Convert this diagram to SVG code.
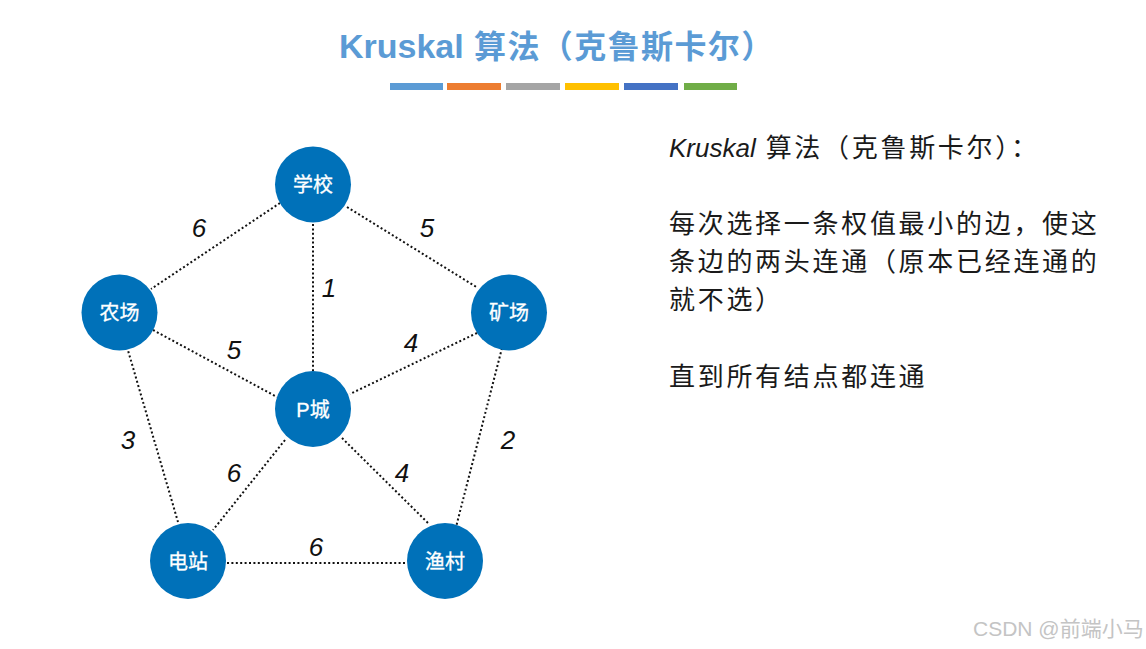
<svg xmlns="http://www.w3.org/2000/svg" width="1146" height="649" viewBox="0 0 1146 649">
<style>
.node circle{fill:#0071b9}
.node text{fill:#fff;stroke:#fff;stroke-width:0.3;font-family:"Liberation Sans","Noto Sans CJK SC",sans-serif;font-size:20px;text-anchor:middle}
.edge{stroke:#111;stroke-width:2;stroke-dasharray:2 2.4;fill:none}
.w{font-family:"Liberation Sans",sans-serif;font-style:italic;font-size:26px;fill:#111;text-anchor:middle}
.desc{font-family:"Liberation Sans","Noto Sans CJK SC",sans-serif;font-size:26px;fill:#1a1a1a}
.cj{letter-spacing:2.7px}
</style>
<rect width="1146" height="649" fill="#fff"/>
<text x="339" y="58" font-family="Liberation Sans,Noto Sans CJK SC,sans-serif" font-weight="bold" fill="#5b9bd5"><tspan font-size="34">Kruskal</tspan><tspan font-size="32" letter-spacing="1.4"> 算法（克鲁斯卡尔）</tspan></text>
<g id="bars">
<rect x="390" y="83" width="53" height="7" fill="#5b9bd5"/>
<rect x="447" y="83" width="54" height="7" fill="#ed7d31"/>
<rect x="506" y="83" width="54" height="7" fill="#a5a5a5"/>
<rect x="565" y="83" width="54" height="7" fill="#ffc000"/>
<rect x="624" y="83" width="54" height="7" fill="#4472c4"/>
<rect x="684" y="83" width="53" height="7" fill="#70ad47"/>
</g>
<g id="connectors">
<line class="edge" x1="280" y1="203" x2="151" y2="289"/>
<line class="edge" x1="347" y1="207" x2="478" y2="288"/>
<line class="edge" x1="313" y1="224" x2="313" y2="372"/>
<line class="edge" x1="153" y1="330" x2="277" y2="397"/>
<line class="edge" x1="477" y1="333" x2="350" y2="394"/>
<line class="edge" x1="127" y1="347" x2="178" y2="522"/>
<line class="edge" x1="502" y1="348" x2="456" y2="527"/>
<line class="edge" x1="285" y1="440" x2="213" y2="530"/>
<line class="edge" x1="342" y1="438" x2="428" y2="523"/>
<line class="edge" x1="227" y1="563" x2="407" y2="563"/>
</g>
<g id="weights">
<text class="w" x="199" y="237">6</text>
<text class="w" x="427" y="237">5</text>
<text class="w" x="329" y="297">1</text>
<text class="w" x="234" y="359">5</text>
<text class="w" x="411" y="352">4</text>
<text class="w" x="128" y="449">3</text>
<text class="w" x="508" y="449">2</text>
<text class="w" x="234" y="482">6</text>
<text class="w" x="402" y="482">4</text>
<text class="w" x="316" y="556">6</text>
</g>
<g id="n-school" class="node"><circle cx="313" cy="184.5" r="38"/><text x="313" y="192">学校</text></g>
<g id="n-farm" class="node"><circle cx="119.5" cy="312.5" r="38"/><text x="119.5" y="320">农场</text></g>
<g id="n-mine" class="node"><circle cx="509" cy="312.5" r="38"/><text x="509" y="320">矿场</text></g>
<g id="n-pcity" class="node"><circle cx="313" cy="409" r="38"/><text x="313" y="416.5">P城</text></g>
<g id="n-power" class="node"><circle cx="188" cy="561" r="38"/><text x="188" y="568.5">电站</text></g>
<g id="n-fish" class="node"><circle cx="445" cy="561" r="38"/><text x="445" y="568.5">渔村</text></g>
<g id="description" class="desc">
<text x="669" y="157"><tspan font-style="italic">Kruskal</tspan><tspan class="cj"> 算法（克鲁斯卡尔）：</tspan></text>
<text class="cj" x="669" y="233">每次选择一条权值最小的边，使这</text>
<text class="cj" x="669" y="271">条边的两头连通（原本已经连通的</text>
<text class="cj" x="669" y="309">就不选）</text>
<text class="cj" x="669" y="386">直到所有结点都连通</text>
</g>
<text x="973" y="636" font-family="Liberation Sans,Noto Sans CJK SC,sans-serif" font-size="21" fill="#c4c4c4">CSDN @前端小马</text>
</svg>
